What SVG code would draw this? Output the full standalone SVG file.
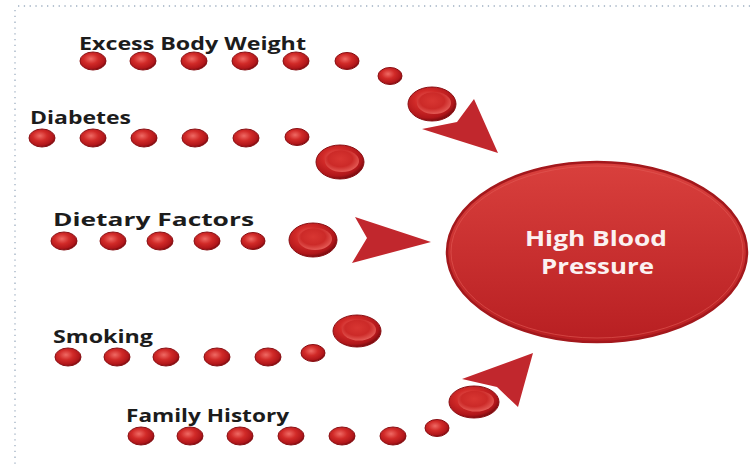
<svg xmlns="http://www.w3.org/2000/svg" width="750" height="465" viewBox="0 0 750 465">
<defs>
<radialGradient id="dot" cx="0.42" cy="0.38" r="0.62">
<stop offset="0" stop-color="#ef6a64"/>
<stop offset="0.45" stop-color="#d12a28"/>
<stop offset="0.85" stop-color="#b0161a"/>
<stop offset="1" stop-color="#7e0c10"/>
</radialGradient>
<radialGradient id="cell" cx="0.45" cy="0.4" r="0.6">
<stop offset="0" stop-color="#d83632"/>
<stop offset="0.6" stop-color="#cc2a28"/>
<stop offset="1" stop-color="#e45a55"/>
</radialGradient>
<linearGradient id="hub" x1="0" y1="0" x2="0" y2="1">
<stop offset="0" stop-color="#d9403d"/>
<stop offset="1" stop-color="#b81f22"/>
</linearGradient>
<style>
.lbl{font-family:"Open Sans","Liberation Sans",sans-serif;font-weight:700;font-size:17px;fill:#1c1c1c}
.hub{font-family:"Open Sans","Liberation Sans",sans-serif;font-weight:700;font-size:21px;fill:#fbf1f1}
.d{fill:url(#dot);stroke:#8a1014;stroke-width:1}
.b{fill:url(#dot);stroke:#8a1014;stroke-width:1}
.bi{fill:url(#cell);stroke:none}
.ar{fill:#c1272d}
.bd{fill:none;stroke:#9fb0c2;stroke-width:1.3;stroke-dasharray:1.3 4.5}
</style>
</defs>
<line class="bd" x1="18" y1="6" x2="750" y2="6"/>
<line class="bd" x1="15" y1="10" x2="15" y2="465"/>

<g id="connectors">
<g id="chain-excess">
<ellipse class="d" cx="93" cy="61" rx="13" ry="9"/>
<ellipse class="d" cx="143" cy="61" rx="13" ry="9"/>
<ellipse class="d" cx="194" cy="61" rx="13" ry="9"/>
<ellipse class="d" cx="245" cy="61" rx="13" ry="9"/>
<ellipse class="d" cx="296" cy="61" rx="13" ry="9"/>
<ellipse class="d" cx="347" cy="61" rx="12" ry="8.5"/>
<ellipse class="d" cx="390" cy="76" rx="12" ry="8.5"/>
<ellipse class="b" cx="432" cy="104" rx="24" ry="17"/>
<ellipse class="bi" cx="434" cy="103" rx="17" ry="11"/>
<path class="ar" d="M422,129 L457,122 L474,99 L498,153 Z"/>
</g>
<g id="chain-diabetes">
<ellipse class="d" cx="42" cy="138" rx="13" ry="9"/>
<ellipse class="d" cx="93" cy="138" rx="13" ry="9"/>
<ellipse class="d" cx="144" cy="138" rx="13" ry="9"/>
<ellipse class="d" cx="195" cy="138" rx="13" ry="9"/>
<ellipse class="d" cx="246" cy="138" rx="13" ry="9"/>
<ellipse class="d" cx="297" cy="137" rx="12" ry="8.5"/>
<ellipse class="b" cx="340" cy="162" rx="24" ry="17"/>
<ellipse class="bi" cx="342" cy="161" rx="17" ry="11"/>
</g>
<g id="chain-dietary">
<ellipse class="d" cx="64" cy="241" rx="13" ry="9"/>
<ellipse class="d" cx="113" cy="241" rx="13" ry="9"/>
<ellipse class="d" cx="160" cy="241" rx="13" ry="9"/>
<ellipse class="d" cx="207" cy="241" rx="13" ry="9"/>
<ellipse class="d" cx="253" cy="241" rx="12" ry="8.5"/>
<ellipse class="b" cx="313" cy="240" rx="24" ry="17"/>
<ellipse class="bi" cx="315" cy="239" rx="17" ry="11"/>
<path class="ar" d="M355,217 L431,242 L352,263 L367,238 Z"/>
</g>
<g id="chain-smoking">
<ellipse class="d" cx="68" cy="357" rx="13" ry="9"/>
<ellipse class="d" cx="117" cy="357" rx="13" ry="9"/>
<ellipse class="d" cx="166" cy="357" rx="13" ry="9"/>
<ellipse class="d" cx="217" cy="357" rx="13" ry="9"/>
<ellipse class="d" cx="268" cy="357" rx="13" ry="9"/>
<ellipse class="d" cx="313" cy="353" rx="12" ry="8.5"/>
<ellipse class="b" cx="357" cy="331" rx="24" ry="16"/>
<ellipse class="bi" cx="359" cy="330" rx="17" ry="10.5"/>
</g>
<g id="chain-family">
<ellipse class="d" cx="141" cy="436" rx="13" ry="9"/>
<ellipse class="d" cx="190" cy="436" rx="13" ry="9"/>
<ellipse class="d" cx="240" cy="436" rx="13" ry="9"/>
<ellipse class="d" cx="291" cy="436" rx="13" ry="9"/>
<ellipse class="d" cx="342" cy="436" rx="13" ry="9"/>
<ellipse class="d" cx="393" cy="436" rx="13" ry="9"/>
<ellipse class="d" cx="437" cy="428" rx="12" ry="8.5"/>
<ellipse class="b" cx="474" cy="402" rx="25" ry="16"/>
<ellipse class="bi" cx="476" cy="401" rx="18" ry="10.5"/>
<path class="ar" d="M462,379 L533,353 L518,407 L497,387 Z"/>
</g>
</g>

<g id="node-excess"><text class="lbl" x="79" y="50" textLength="227" lengthAdjust="spacingAndGlyphs">Excess Body Weight</text></g>
<g id="node-diabetes"><text class="lbl" x="30" y="124" textLength="101" lengthAdjust="spacingAndGlyphs">Diabetes</text></g>
<g id="node-dietary"><text class="lbl" x="53" y="226" textLength="201" lengthAdjust="spacingAndGlyphs">Dietary Factors</text></g>
<g id="node-smoking"><text class="lbl" x="53" y="343" textLength="100" lengthAdjust="spacingAndGlyphs">Smoking</text></g>
<g id="node-family"><text class="lbl" x="126" y="422" textLength="163" lengthAdjust="spacingAndGlyphs">Family History</text></g>

<g id="node-hbp">
<ellipse cx="597" cy="252" rx="150" ry="90" fill="url(#hub)" stroke="#a3181c" stroke-width="2.5"/>
<ellipse cx="597" cy="252" rx="146" ry="86" fill="none" stroke="#e35a55" stroke-width="1" opacity="0.6"/>
<text class="hub" x="525" y="246" textLength="142" lengthAdjust="spacingAndGlyphs">High Blood</text>
<text class="hub" x="541" y="274" textLength="113" lengthAdjust="spacingAndGlyphs">Pressure</text>
</g>
</svg>
